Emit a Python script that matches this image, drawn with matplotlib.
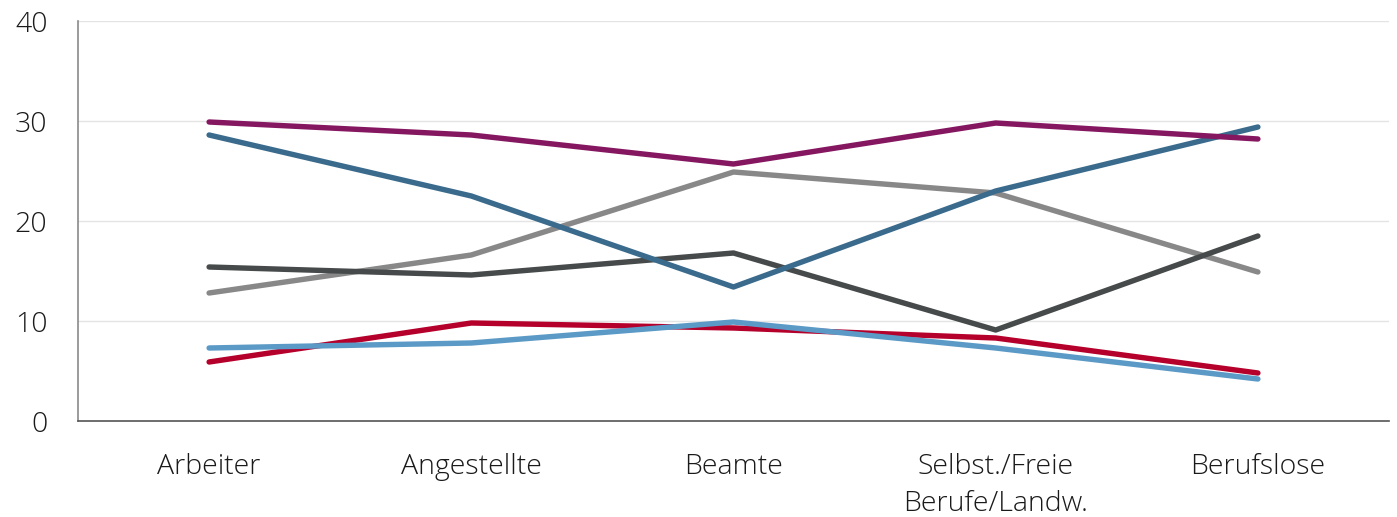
import matplotlib
matplotlib.use("Agg")
import matplotlib.pyplot as plt

categories = ["Arbeiter", "Angestellte", "Beamte", "Selbst./Freie\nBerufe/Landw.", "Berufslose"]
purple = [29.9, 28.6, 25.7, 29.8, 28.2]
teal = [28.6, 22.5, 13.4, 23.0, 29.4]
light_gray = [12.8, 16.6, 24.9, 22.8, 14.9]
dark_gray = [15.4, 14.6, 16.8, 9.1, 18.5]
red = [5.9, 9.8, 9.3, 8.3, 4.8]
light_blue = [7.3, 7.8, 9.9, 7.3, 4.2]
yticks = [0, 10, 20, 30, 40]

series = [
    (light_gray, "#888888"),
    (dark_gray, "#464a4a"),
    (red, "#b5002b"),
    (light_blue, "#5b9ac6"),
    (teal, "#3a6a8c"),
    (purple, "#851660"),
]

plt.rcParams['font.family'] = ['Open Sans', 'DejaVu Sans']
fig = plt.figure(figsize=(13.97, 5.17), dpi=100)
ax = fig.add_axes([78/1397, 1-421/517, (1389-78)/1397, 400/517])

x = list(range(len(categories)))
for vals, col in series:
    ax.plot(x, vals, color=col, lw=3.9, solid_capstyle='round', solid_joinstyle='round', zorder=3)

ax.set_xlim(-0.5, len(categories) - 0.5)
ax.set_ylim(0, 40)
ax.set_yticks(yticks)
ax.set_yticklabels([str(t) for t in yticks], fontsize=20.5, fontweight='light', color='#1a1a1a')
ax.set_xticks(x)
ax.set_xticklabels(categories, fontsize=20.5, fontweight='light', color='#1a1a1a', linespacing=1.45)
ax.tick_params(axis='both', length=0)
ax.tick_params(axis='y', pad=22)
ax.tick_params(axis='x', pad=23)
ax.grid(axis='y', color='#e4e4e4', lw=1, zorder=0)
for s in ['top', 'right']:
    ax.spines[s].set_visible(False)
ax.spines['left'].set_color('#8a8a8a')
ax.spines['left'].set_linewidth(1.2)
ax.spines['bottom'].set_color('#555555')
ax.spines['bottom'].set_linewidth(1.2)
ax.set_axisbelow(True)

fig.savefig("out.png", dpi=100)
